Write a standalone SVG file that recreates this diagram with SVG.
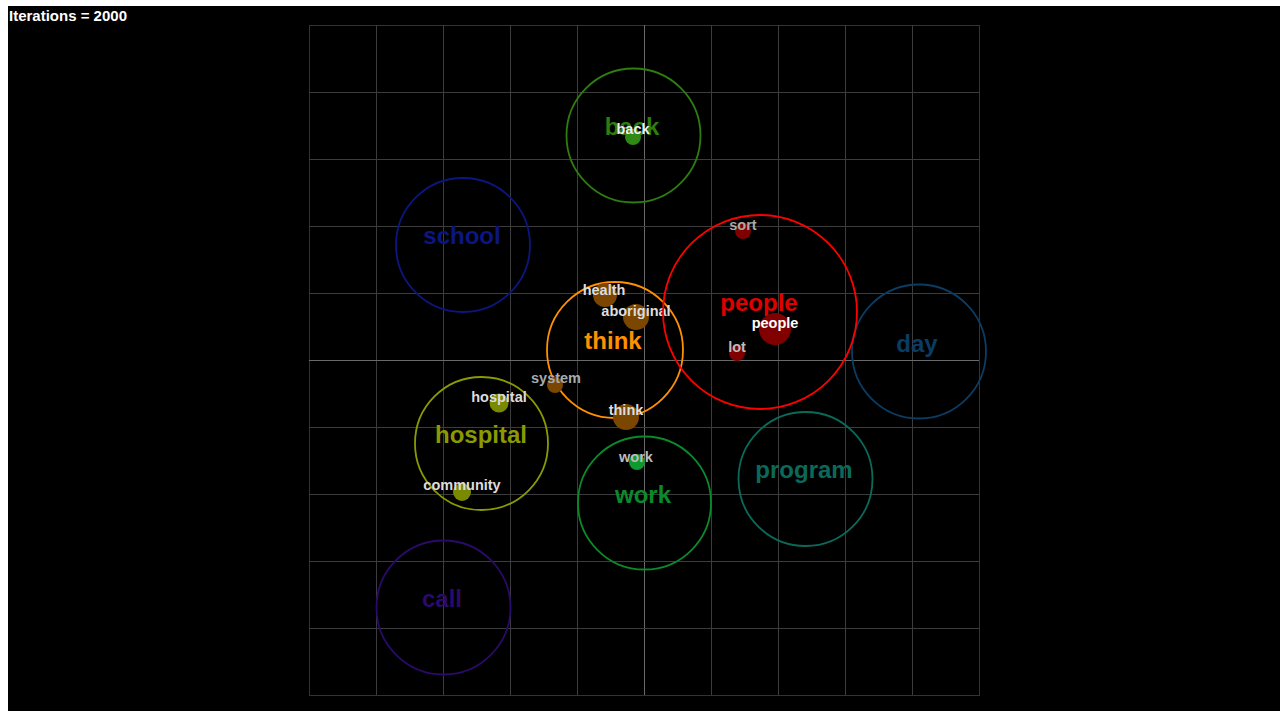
<svg xmlns="http://www.w3.org/2000/svg" width="1287" height="711" viewBox="0 0 1287 711">
<style>
.grid line{stroke:#3c3c3c;stroke-width:1}
.grid .mid{stroke:#6a6a6a}
.ring{fill:none;stroke-width:1.8}
.big{font-family:"Liberation Sans",Arial,sans-serif;font-weight:bold;font-size:24px;text-anchor:middle}
.sm{font-family:"Liberation Sans",Arial,sans-serif;font-weight:bold;font-size:14.5px;text-anchor:middle}
</style>
<rect x="0" y="0" width="1287" height="711" fill="#fff"/>
<rect x="8" y="6" width="1272" height="705" fill="#000"/>
<text x="9" y="21" fill="#fff" font-family="Liberation Sans,Arial,sans-serif" font-weight="bold" font-size="15">Iterations = 2000</text>
<g class="grid" id="grid">
<rect x="309.5" y="25.5" width="670" height="670" fill="none" stroke="#333"/>
<line x1="376.5" y1="25" x2="376.5" y2="695"/>
<line x1="443.5" y1="25" x2="443.5" y2="695"/>
<line x1="510.5" y1="25" x2="510.5" y2="695"/>
<line x1="577.5" y1="25" x2="577.5" y2="695"/>
<line class="mid" x1="644.5" y1="25" x2="644.5" y2="695"/>
<line x1="711.5" y1="25" x2="711.5" y2="695"/>
<line x1="778.5" y1="25" x2="778.5" y2="695"/>
<line x1="845.5" y1="25" x2="845.5" y2="695"/>
<line x1="912.5" y1="25" x2="912.5" y2="695"/>
<line x1="309" y1="92.5" x2="979" y2="92.5"/>
<line x1="309" y1="159.5" x2="979" y2="159.5"/>
<line x1="309" y1="226.5" x2="979" y2="226.5"/>
<line x1="309" y1="293.5" x2="979" y2="293.5"/>
<line class="mid" x1="309" y1="360.5" x2="979" y2="360.5"/>
<line x1="309" y1="427.5" x2="979" y2="427.5"/>
<line x1="309" y1="494.5" x2="979" y2="494.5"/>
<line x1="309" y1="561.5" x2="979" y2="561.5"/>
<line x1="309" y1="628.5" x2="979" y2="628.5"/>
</g>
<g id="connectors"></g>
<g id="node-school">
<circle class="ring" cx="463" cy="245" r="67" stroke="#0c1680"/>
<text class="big" x="462" y="244" fill="#0c1680">school</text>
</g>
<g id="node-day">
<circle class="ring" cx="919" cy="351.5" r="67" stroke="#0a3c64"/>
<text class="big" x="917" y="352" fill="#0a3c64">day</text>
</g>
<g id="node-program">
<circle class="ring" cx="805.5" cy="479" r="67" stroke="#0a6a5a"/>
<text class="big" x="804" y="478" fill="#0a6a5a">program</text>
</g>
<g id="node-call">
<circle class="ring" cx="443.5" cy="607.5" r="67" stroke="#2a0a6a"/>
<text class="big" x="442" y="607" fill="#2a0a6a">call</text>
</g>
<g id="node-back">
<circle class="ring" cx="633.5" cy="135.5" r="67" stroke="#2e7d0e"/>
<text class="big" x="632" y="135" fill="#2e7d0e">back</text>
<circle cx="633" cy="137" r="8" fill="#2e8a14"/>
<text class="sm" x="633" y="134" fill="#eee">back</text>
</g>
<g id="node-work">
<circle class="ring" cx="644.5" cy="503" r="66.5" stroke="#0a8a2a"/>
<text class="big" x="643" y="503" fill="#0a8a2a">work</text>
<circle cx="637" cy="462" r="8" fill="#0f9a30"/>
<text class="sm" x="636" y="462" fill="#bbb">work</text>
</g>
<g id="node-hospital">
<circle class="ring" cx="481.5" cy="443.5" r="66.5" stroke="#8a9a00"/>
<text class="big" x="481" y="443" fill="#8a9a00">hospital</text>
<circle cx="499" cy="403" r="9.5" fill="#7a8a00"/>
<text class="sm" x="499" y="402" fill="#ddd">hospital</text>
<circle cx="462" cy="492" r="9" fill="#7a8a00"/>
<text class="sm" x="462" y="490" fill="#ddd">community</text>
</g>
<g id="node-think">
<circle class="ring" cx="615" cy="350" r="68" stroke="#ff9000"/>
<text class="big" x="613" y="349" fill="#ff9000">think</text>
<circle cx="605" cy="295" r="12" fill="#7a4600"/>
<text class="sm" x="604" y="295" fill="#ddd">health</text>
<circle cx="636" cy="317" r="13" fill="#7a4600"/>
<text class="sm" x="636" y="316" fill="#ddd">aboriginal</text>
<circle cx="555" cy="385" r="8" fill="#7a4600"/>
<text class="sm" x="556" y="383" fill="#aaa">system</text>
<circle cx="626" cy="417" r="13" fill="#7a4600"/>
<text class="sm" x="626" y="415" fill="#ddd">think</text>
</g>
<g id="node-people">
<circle class="ring" cx="760" cy="312" r="97" stroke="#f00"/>
<text class="big" x="759" y="311" fill="#e00000">people</text>
<circle cx="743" cy="231" r="8" fill="#800000"/>
<text class="sm" x="743" y="230" fill="#aaa">sort</text>
<circle cx="775" cy="329" r="16" fill="#800000"/>
<text class="sm" x="775" y="328" fill="#fff">people</text>
<circle cx="737" cy="353" r="8" fill="#800000"/>
<text class="sm" x="737" y="352" fill="#bbb">lot</text>
</g>
</svg>
